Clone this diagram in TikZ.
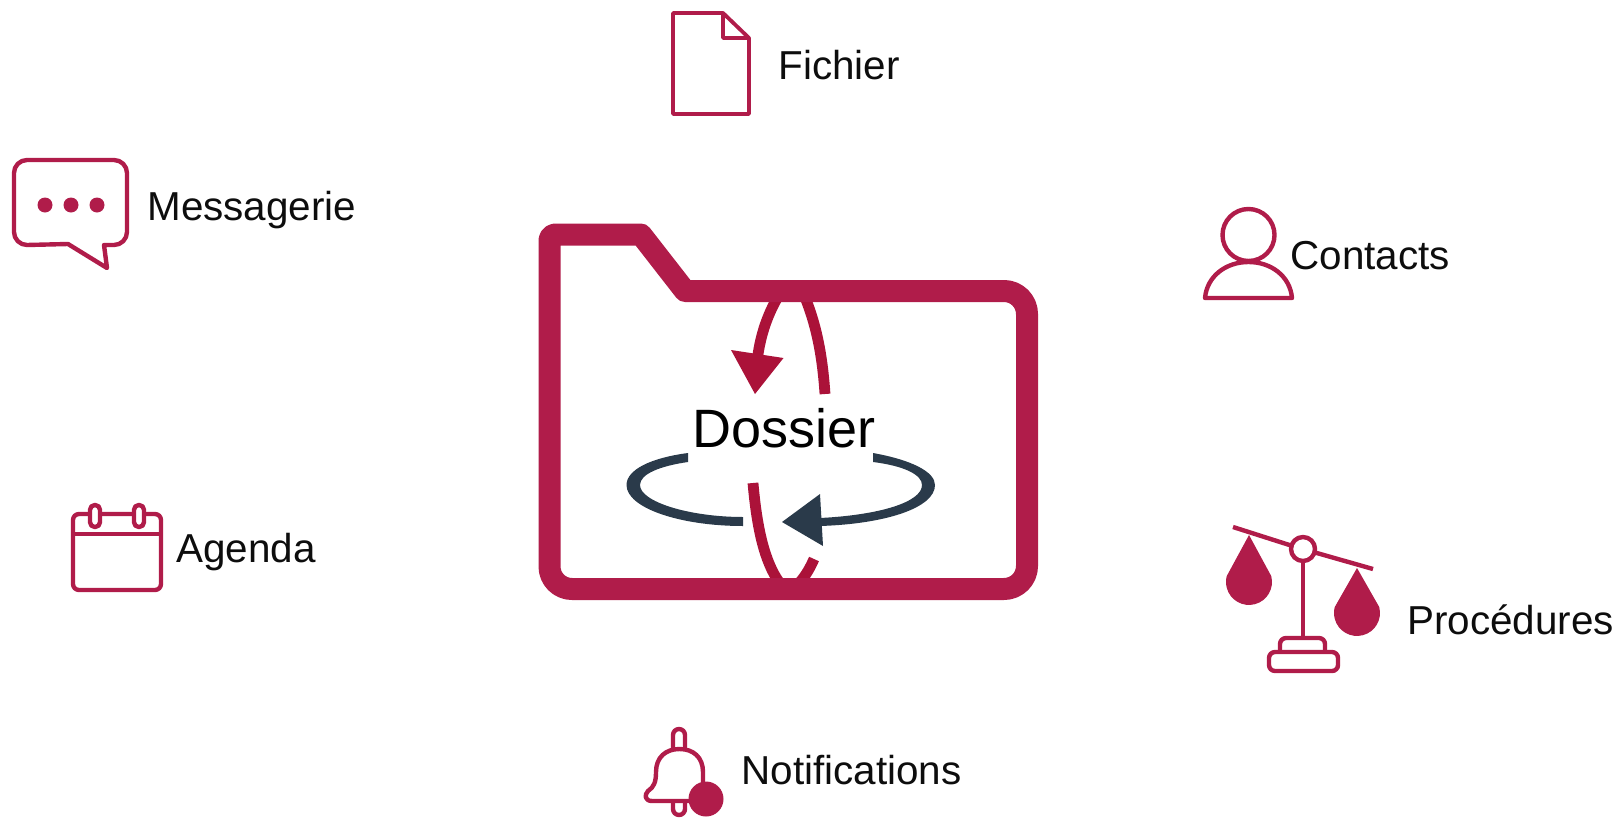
\documentclass[tikz,border=0pt]{standalone}
\usepackage{fontspec}
\setmainfont{Liberation Sans}
\definecolor{crimson}{HTML}{B01C4A}
\definecolor{arcred}{HTML}{AB1239}
\definecolor{slate}{HTML}{2A3A4A}
\tikzset{
  icon/.style={draw=crimson,line width=2.2pt,line join=round},
  iconfill/.style={fill=crimson},
  lab/.style={anchor=base west,inner sep=0pt,font=\fontsize{20.2pt}{24pt}\selectfont,text=black!95},
  folderline/.style={draw=crimson,line width=11pt,line join=round},
  redarc/.style={draw=arcred,line width=5.4pt},
  darkfill/.style={fill=slate}
}
\begin{document}
\begin{tikzpicture}[x=0.5pt,y=-0.5pt]
\useasboundingbox (0,0) rectangle (1616,819);
% rotating arrows
\draw[redarc] (825,394) .. controls (822,350) and (815,320) .. (802,290);
\draw[redarc] (782,290) .. controls (768,312) and (760,335) .. (757,362);
\fill[arcred] (731,350) -- (783.5,358) -- (755,394) -- cycle;
\draw[redarc] (753,483) .. controls (757,530) and (765,562) .. (779,582);
\draw[redarc] (814,559) .. controls (810,568) and (806,575) .. (800,582);
\fill[darkfill] (688,453) .. controls (650,458) and (626.5,470) .. (626.5,485) .. controls (626.5,508) and (680,526) .. (743,526) -- (743,517) .. controls (690,517) and (640,502) .. (640,485) .. controls (640,474) and (660,466) .. (688,462) -- cycle;
\fill[darkfill] (873,453) .. controls (912,460) and (935,472) .. (935,485) .. controls (935,508) and (885,524) .. (820,526) -- (820,518) .. controls (880,515) and (922,502) .. (922,485) .. controls (922,475) and (905,466) .. (873,462) -- cycle;
\fill[slate] (782,522) -- (820,494) -- (823,546) -- cycle;
% folder
\draw[folderline] (549.5,240.5) arc[start angle=180,end angle=270,radius=6] -- (641,234.5) -- (685,291) -- (1004,291) arc[start angle=-90,end angle=0,radius=23] -- (1027,566) arc[start angle=0,end angle=90,radius=23] -- (572,589) arc[start angle=90,end angle=180,radius=22.5] -- cycle;
\node[inner sep=0pt,anchor=base,font=\fontsize{27pt}{32pt}\selectfont,text=black] (dossier) at (784,447) {Dossier};
% file
\draw[icon,line width=1.9pt] (673,13) -- (723,13) -- (749,38) -- (749,114) -- (673,114) -- cycle;
\draw[icon,line width=1.9pt] (723,13) -- (723,38) -- (749,38);
\node[lab] (fichier) at (778,79) {Fichier};
% message
\draw[icon] (27,160) -- (114,160) arc[start angle=-90,end angle=0,radius=13] -- (127,232) arc[start angle=0,end angle=90,radius=13] -- (104,245) -- (107,268) -- (68,244) -- (27,245) arc[start angle=90,end angle=180,radius=13] -- (14,173) arc[start angle=180,end angle=270,radius=13] -- cycle;
\fill[iconfill] (45,205) circle[radius=7.5] (71,205) circle[radius=7.5] (97,205) circle[radius=7.5];
\node[lab] (messagerie) at (147,220) {Messagerie};
% contacts
\draw[icon] (1248.5,235) circle[radius=26];
\draw[icon] (1205,298) .. controls (1207,276) and (1226,262) .. (1248.5,262) .. controls (1271,262) and (1290,276) .. (1292,298) -- cycle;
\node[lab] (contacts) at (1290,269) {Contacts};
% agenda
\draw[icon,rounded corners=3pt] (73,514) rectangle (161,590);
\draw[icon] (73,534) -- (161,534);
\draw[icon,fill=white,rounded corners=2.4pt] (90,505) rectangle (100,527);
\draw[icon,fill=white,rounded corners=2.4pt] (134,505) rectangle (144,527);
\node[lab] (agenda) at (176,562) {Agenda};
% scales
\draw[icon] (1233,527) -- (1291,545.5);
\draw[icon] (1315,552.5) -- (1373,569);
\draw[icon] (1303,549) circle[radius=12];
\draw[icon] (1303,561) -- (1303,638);
\draw[icon,rounded corners=3pt] (1280,652) -- (1280,638) -- (1325,638) -- (1325,652);
\draw[icon,rounded corners=3pt] (1269,652) rectangle (1338,671);
\fill[iconfill] (1249,535) -- (1271.2,576) arc[start angle=-15,end angle=195,radius=23] -- cycle;
\fill[iconfill] (1357,568) -- (1379.2,607) arc[start angle=-15,end angle=195,radius=23] -- cycle;
\node[lab] (procedures) at (1407,634) {Procédures};
% notifications
\draw[icon] (673,748) -- (673,735) arc[start angle=180,end angle=360,radius=6] -- (685,748);
\draw[icon] (673,802) -- (673,809) arc[start angle=180,end angle=0,radius=6] -- (685,802);
\draw[icon] (656,772) .. controls (656,757) and (666,749) .. (679.5,749) .. controls (693,749) and (703,757) .. (703,772) -- (703,790) -- (690,801) -- (652,801) .. controls (645,801) and (644,795) .. (648,791) .. controls (654,787) and (656,782) .. (656,772) -- cycle;
\fill[iconfill] (706,799) circle[radius=17.5];
\node[lab] (notifications) at (741,784) {Notifications};
\end{tikzpicture}
\end{document}
